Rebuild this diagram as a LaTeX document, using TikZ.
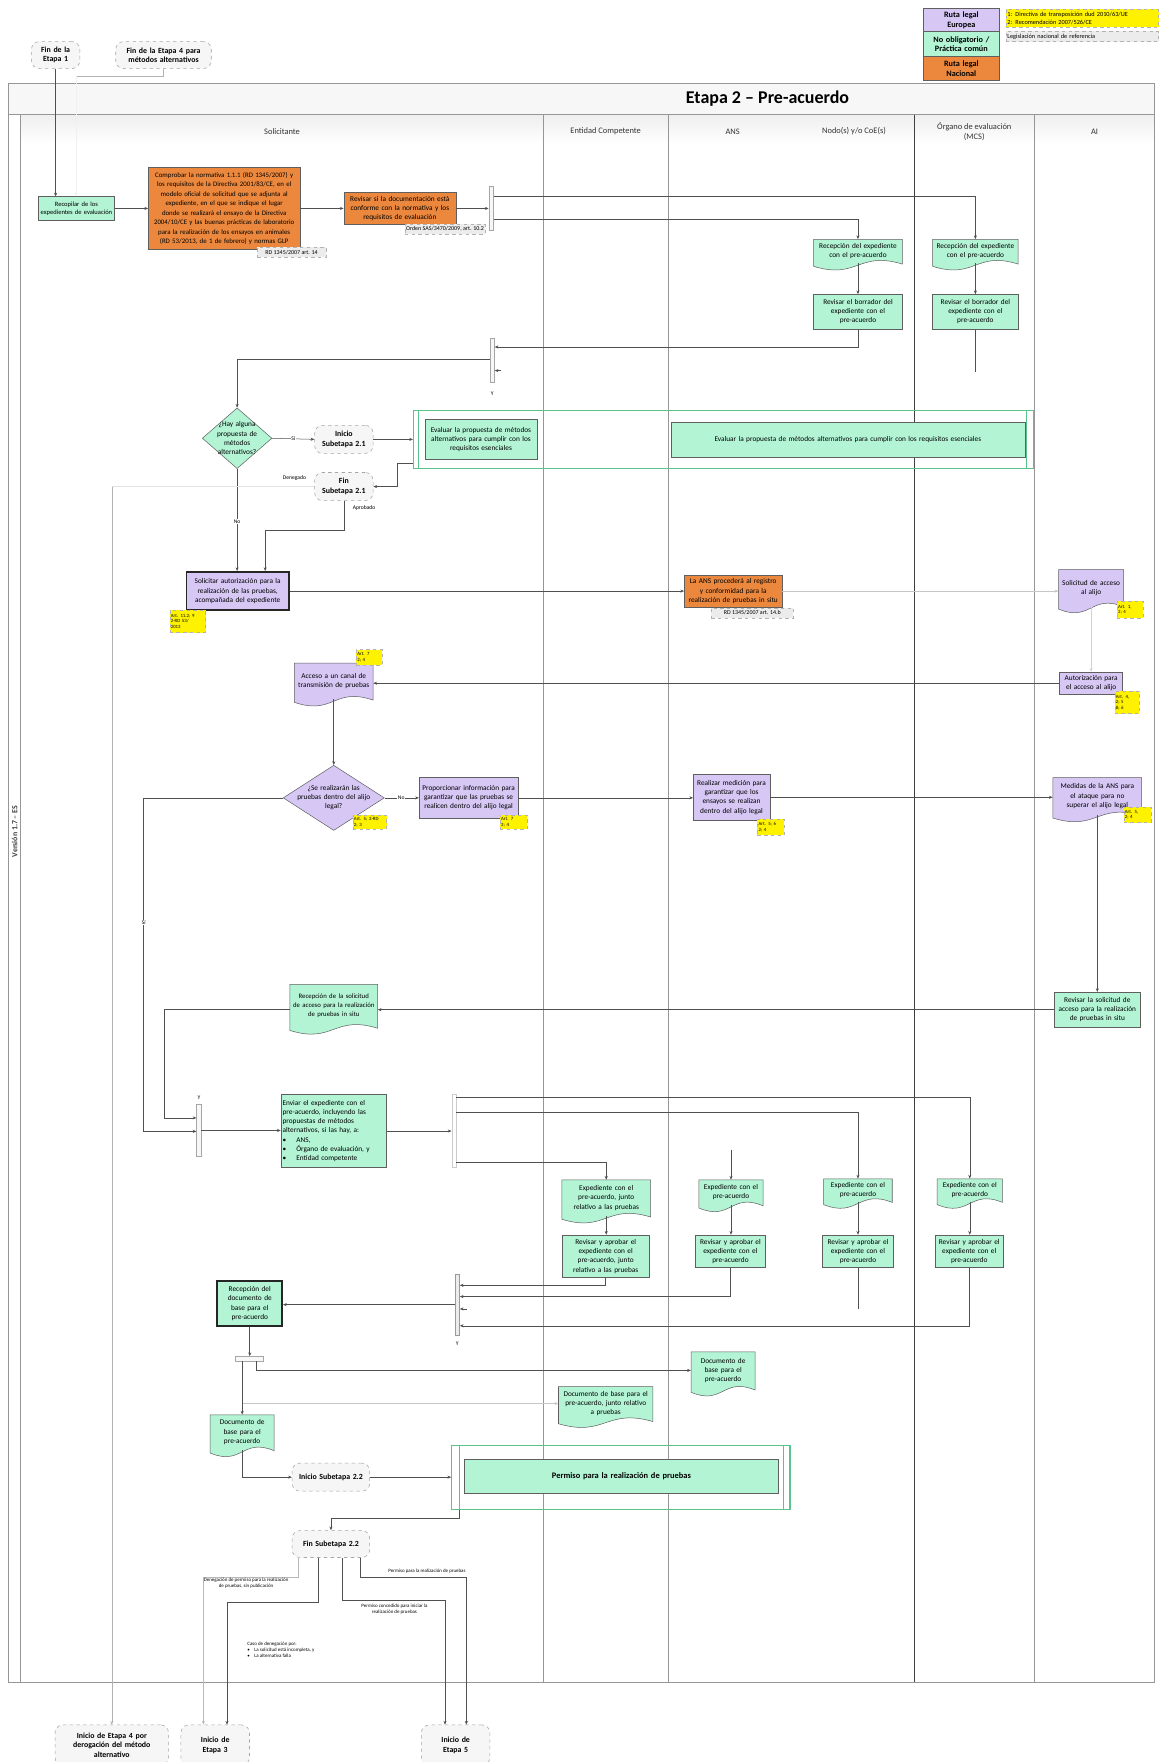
\documentclass[tikz,border=0pt]{standalone}
\usepackage{fontspec}
\setmainfont{Carlito}
\usetikzlibrary{arrows.meta,calc,shapes.geometric}
\definecolor{mint}{RGB}{178,244,212}
\definecolor{lav}{RGB}{214,199,245}
\definecolor{org}{RGB}{236,136,62}
\definecolor{boxline}{RGB}{95,95,95}
\definecolor{linec}{RGB}{80,80,80}
\definecolor{lanec}{RGB}{150,150,150}
\definecolor{spgreen}{RGB}{90,195,140}
\pgfdeclarelayer{bg}
\pgfsetlayers{bg,main}
\tikzset{
 txt/.style={font=\fontsize{6.5}{8.2}\selectfont, align=center, inner sep=1pt},
 box/.style={txt, draw=boxline, line width=0.45pt, rectangle},
 gbox/.style={box, fill=mint},
 pbox/.style={box, fill=lav},
 obox/.style={box, fill=org},
 heavy/.style={line width=1.7pt, draw=black!85},
 docsh/.style={draw=boxline, line width=0.45pt},
 term/.style={txt, font=\fontsize{7}{8.4}\selectfont\bfseries, draw=gray!70, dashed, fill=gray!7, rounded corners=7pt, line width=0.5pt},
 ylab/.style={font=\fontsize{4.3}{4.9}\selectfont, fill=yellow, draw=gray!60, dashed, line width=0.3pt, align=left, inner sep=0.8pt},
 glab/.style={font=\fontsize{5.3}{6}\selectfont, fill=gray!15, draw=gray!60, dashed, line width=0.4pt, inner sep=1pt},
 fork/.style={draw=gray!70, fill=gray!6, line width=0.4pt, inner sep=0pt},
 ar/.style={draw=linec, line width=0.45pt, -{Stealth[length=3.3pt,width=2.7pt]}},
 ln/.style={draw=linec, line width=0.45pt},
 fa/.style={draw=gray!40, line width=0.4pt},
 lbl/.style={font=\fontsize{5}{5.8}\selectfont, inner sep=0.6pt, align=center},
 hd/.style={font=\fontsize{7.5}{8.5}\selectfont, text=black!80, align=center},
 dia/.style={diamond, draw=boxline, line width=0.45pt, inner sep=0pt},
}
\newcommand\bx[7][]{%
 \pgfmathsetmacro\bxw{#5-#3}\pgfmathsetmacro\bxh{#6-#4}%
 \pgfmathsetmacro\bxcx{(#3+#5)/2}\pgfmathsetmacro\bxcy{(#4+#6)/2}%
 \pgfmathsetmacro\bxt{#5-#3-3}%
 \node[box,#1,minimum width=\bxw pt,minimum height=\bxh pt,text width=\bxt pt] (#2) at (\bxcx,\bxcy) {#7};}
\newcommand\dc[7][]{%
 \pgfmathsetmacro\bxw{#5-#3}\pgfmathsetmacro\bxh{#6-4-#4}%
 \pgfmathsetmacro\bxcx{(#3+#5)/2}\pgfmathsetmacro\bxcy{(#4+#6-4)/2}%
 \pgfmathsetmacro\bxt{#5-#3-3}%
 \pgfmathsetmacro\bya{#6-3}\pgfmathsetmacro\byb{#6-15}\pgfmathsetmacro\byc{#6+11}\pgfmathsetmacro\byd{#6-1}%
 \path[docsh,#1] (#3,#4) -- (#5,#4) -- (#5,\bya) .. controls (\bxcx,\byb) and (\bxcx,\byc) .. (#3,\byd) -- cycle;
 \node[txt,minimum width=\bxw pt,minimum height=\bxh pt,text width=\bxt pt] (#2) at (\bxcx,\bxcy) {#7};}
\newcommand\tm[6]{\pgfmathsetmacro\bxt{#4-6}%
 \node[term,minimum width=#4pt,minimum height=#5pt,text width=\bxt pt] (#1) at (#2,#3) {#6};}
\begin{document}
\begin{tikzpicture}[x=1pt,y=-1pt]
\useasboundingbox (0,0) rectangle (1031,1568);

% ---------- frame and lanes
\begin{pgfonlayer}{bg}
\fill[white] (0,0) rectangle (1031,1568);
\fill[gray!6] (7.6,74) rectangle (1027,102);
\shade[top color=gray!13,bottom color=white] (18,102) rectangle (1027,128);
\draw[lanec,line width=0.7pt] (7.6,74) rectangle (1027,1497);
\draw[lanec,line width=0.6pt] (7.6,102) -- (1027,102);
\draw[lanec] (18,102) -- (18,1497);
\draw[lanec] (483,102) -- (483,1497);
\draw[lanec] (595,102) -- (595,1497);
\draw[black!75,line width=0.6pt] (814,102) -- (814,1497);
\draw[lanec] (920,102) -- (920,1497);
\end{pgfonlayer}
\node[font=\fontsize{16}{18}\selectfont\bfseries] (title) at (683,88) {Etapa 2 – Pre-acuerdo};
\node[rotate=90,font=\fontsize{7}{8}\selectfont\bfseries,text=black!75] (ver) at (13,740) {Versión 1.7 – ES};
\node[hd] (hS) at (251,117) {Solicitante};
\node[hd] (hE) at (539,117) {Entidad Competente};
\node[hd] (hA) at (652,117) {ANS};
\node[hd] (hN) at (760,117) {Nodo(s) y/o CoE(s)};
\node[hd] (hO) at (867,117) {Órgano de evaluación\\(MCS)};
\node[hd] (hI) at (974,117) {AI};

% ---------- legend
\bx[pbox,font=\fontsize{7.3}{8.8}\selectfont\bfseries]{lg1}{822}{7.4}{889}{28.2}{Ruta legal\\Europea}
\bx[gbox,font=\fontsize{7.3}{8.8}\selectfont\bfseries]{lg2}{822}{28.2}{889}{50.4}{No obligatorio /\\Práctica común}
\bx[obox,font=\fontsize{7.3}{8.8}\selectfont\bfseries]{lg3}{822}{50.4}{889}{71.2}{Ruta legal\\Nacional}
\node[ylab,font=\fontsize{5.6}{7}\selectfont,minimum width=136pt,minimum height=16pt,text width=133pt] (lgy) at (963,16.3) {1: Directiva de transposición dud 2010/63/UE\\2: Recomendación 2007/526/CE};
\node[glab,font=\fontsize{5.6}{6.5}\selectfont,minimum width=136pt,minimum height=9pt,text width=133pt,align=left] (lgg) at (963,32.5) {Legislación nacional de referencia};

% ---------- top terminators
\tm{fe1}{49.5}{49}{43}{24}{Fin de la\\Etapa 1}
\tm{fe4}{145.5}{49}{85}{24}{Fin de la Etapa 4 para\\métodos alternativos}

% ---------- row 1
\bx[gbox,font=\fontsize{5.8}{7.2}\selectfont]{rec}{34}{175}{102}{196}{Recopilar de los\\expedientes de evaluación}
\bx[obox,font=\fontsize{6.1}{8.4}\selectfont]{o1}{132}{149}{267}{222}{Comprobar la normativa 1.1.1 (RD 1345/2007) y\\los requisitos de la Directiva 2001/83/CE, en el\\modelo oficial de solicitud que se adjunta al\\expediente, en el que se indique el lugar\\donde se realizará el ensayo de la Directiva\\2004/10/CE y las buenas prácticas de laboratorio\\para la realización de los ensayos en animales\\(RD 53/2013, de 1 de febrero) y normas GLP}
\node[glab,minimum width=61pt,minimum height=9pt] (o1l) at (259.5,224.5) {RD 1345/2007 art. 14};
\bx[obox]{o2}{306}{171}{405.6}{200}{Revisar si la documentación está\\conforme con la normativa y los\\requisitos de evaluación}
\node[glab,minimum width=66pt,minimum height=9pt] (o2l) at (396,204) {Orden SAS/3470/2009, art. 10.2};
\node[fork,minimum width=4pt,minimum height=39pt] (f1) at (437,185.5) {};

\draw[ar] (fe1.south) -- (fe1.south |- rec.north);
\coordinate (c4) at (67.5,68);
\draw[ln,draw=gray!60] (fe4.south) |- (c4);
\draw[ar,draw=gray!12] (c4) -- (c4 |- rec.north);
\draw[ar] (rec.east) -- (rec.east -| o1.west);
\draw[ar] (o1.east |- o2.west) -- (o2.west);
\draw[ar] (o2.east) -- (o2.east -| f1.west);

\dc[fill=mint]{nodD1}{724}{213}{803}{238}{Recepción del expediente\\con el pre-acuerdo}
\bx[gbox]{nodB1}{724}{262}{803}{293}{Revisar el borrador del\\expediente con el\\pre-acuerdo}
\dc[fill=mint]{orgD1}{830}{213}{906}{238}{Recepción del expediente\\con el pre-acuerdo}
\bx[gbox]{orgB1}{830}{262}{906}{293}{Revisar el borrador del\\expediente con el\\pre-acuerdo}
\draw[ln] ($(f1.north east)+(0,9)$) -| ($(orgD1.north)+(0,-3)$);
\draw[ar] ($(orgD1.north)+(0,-4)$) -- (orgD1.north);
\draw[ln] ($(f1.north east)+(0,29)$) -| ($(nodD1.north)+(0,-3)$);
\draw[ar] ($(nodD1.north)+(0,-4)$) -- (nodD1.north);
\draw[ar] (nodD1.south) -- (nodB1.north);
\draw[ar] (orgD1.south) -- (orgB1.north);

\node[fork,minimum width=4pt,minimum height=39pt] (f2) at (438,320.5) {};
\node[lbl] (y2) at (438,350) {Y};
\draw[ar] (nodB1.south) |- ($(f2.north east)+(0,8)$);
\coordinate (og) at (868,331);
\draw[ln] (orgB1.south) -- (og);
\draw[ar] ($(f2.north east)+(6,29)$) -- ($(f2.north east)+(0,29)$);

% ---------- diamond 1 and subetapa 2.1
\node[dia,fill=mint,minimum width=62pt,minimum height=54pt] (d1) at (211,390) {};
\node[txt,text width=48pt] (d1t) at (d1.center) {¿Hay alguna\\propuesta de\\métodos\\alternativos?};
\draw[ar] ($(f2.north west)+(0,19)$) -| (d1.north);
\tm{i21}{306}{391}{52}{25}{Inicio\\Subetapa 2.1}
\draw[ar] (d1.east) -- (i21.west);
\node[lbl,fill=white] (si1) at (261,390.5) {Sí};
\node[draw=spgreen,line width=1pt,minimum width=552pt,minimum height=52pt,inner sep=0pt] (sp1) at (644,391) {};
\draw[spgreen,line width=0.8pt] ($(sp1.north west)+(5,0)$) -- ($(sp1.south west)+(5,0)$);
\draw[spgreen,line width=0.8pt] ($(sp1.north east)+(-7,0)$) -- ($(sp1.south east)+(-7,0)$);
\bx[gbox]{sp1a}{378}{373}{478}{409}{Evaluar la propuesta de métodos\\alternativos para cumplir con los\\requisitos esenciales}
\bx[gbox]{sp1b}{597}{376}{912}{407}{Evaluar la propuesta de métodos alternativos para cumplir con los requisitos esenciales}
\draw[ar] (i21.east) -- (i21.east -| sp1.west);
\tm{fin21}{306}{433}{52}{25}{Fin\\Subetapa 2.1}
\draw[ar] ($(sp1.south west)+(0,-5)$) -| ($(fin21.east)+(21,0)$) -- (fin21.east);
\node[lbl] (den1) at (262,425) {Denegado};
\node[lbl] (apr1) at (324,452) {Aprobado};

% ---------- solicitud de autorización
\bx[pbox,heavy]{pb1}{166}{509}{257}{543}{Solicitar autorización para la\\realización de las pruebas,\\acompañada del expediente}
\node[ylab,minimum width=32pt,minimum height=20pt,text width=30pt] (pb1l) at (167,553) {Art. 11.2; 9\\2-RD 53/\\2013};
\draw[ar] (d1.south) -- (d1.south |- pb1.north);
\node[lbl,fill=white] (no1) at (211,464) {No};
\draw[ar] (fin21.south) |- ($(pb1.north)+(24.5,-36)$) -- ($(pb1.north)+(24.5,0)$);

% ---------- inicio etapa 4 path
\tm{ie4}{99.5}{1553}{101}{36}{Inicio de Etapa 4 por\\derogación del método\\alternativo}
\coordinate (dn) at (99.5,433);
\draw[fa,draw=gray!22] (fin21.west) -- (dn);
\draw[ar,draw=gray!60] (dn) -- (dn |- ie4.north);

% ---------- ANS / AI first exchange
\bx[obox]{ans1}{609}{512}{696}{540}{La ANS procederá al registro\\y conformidad para la\\realización de pruebas in situ}
\node[glab,minimum width=73pt,minimum height=9pt] (ans1l) at (669.5,545.5) {RD 1345/2007 art. 14.b};
\draw[ar] (pb1.east) -- (pb1.east -| ans1.west);
\dc[fill=lav]{aiD1}{942}{507}{1000}{543}{Solicitud de acceso\\al alijo}
\node[ylab,minimum width=23pt,minimum height=15pt,text width=21pt] (aiD1l) at (1005.5,542.5) {Art. 1,\\2; 4};
\draw[ar,draw=gray!45] (ans1.east) -- (ans1.east -| aiD1.west);
\bx[pbox]{aiB1}{943}{598}{999}{618}{Autorización para\\el acceso al alijo}
\node[ylab,minimum width=22pt,minimum height=20pt,text width=20pt] (aiB1l) at (1003,625) {Art. 4,\\2; 5\\8; 6};
\draw[ar,draw=gray!35] (aiD1.south) -- (aiD1.south |- aiB1.north);
\dc[fill=lav]{sD1}{262}{590}{332}{626}{Acceso a un canal de\\transmisión de pruebas}
\node[ylab,minimum width=23pt,minimum height=14pt,text width=21pt] (sD1l) at (328.5,585) {Art. 7\\2; 4};
\draw[ar] (aiB1.west) -- (aiB1.west -| sD1.east);

% ---------- diamond 2 row
\node[dia,fill=lav,minimum width=90pt,minimum height=58pt] (d2) at (297,710) {};
\node[txt,text width=80pt] (d2t) at (d2.center) {¿Se realizarán las\\pruebas dentro del alijo\\legal?};
\node[ylab,minimum width=30pt,minimum height=13pt,text width=28pt] (d2l) at (329,731.5) {Art. 5; 2-RD\\2; 3};
\draw[ar] (sD1.south) -- (d2.north);
\bx[pbox]{pB2}{373}{692}{461}{728}{Proporcionar información para\\garantizar que las pruebas se\\realicen dentro del alijo legal}
\node[ylab,minimum width=24pt,minimum height=13pt,text width=22pt] (pB2l) at (457,731.5) {Art. 7\\2; 4};
\draw[ar] (d2.east) -- (pB2.west);
\node[lbl,fill=white] (no2) at (357,710) {No};
\bx[pbox]{ansB2}{617}{689}{685}{730}{Realizar medición para\\garantizar que los\\ensayos se realizan\\dentro del alijo legal}
\node[ylab,minimum width=24pt,minimum height=14pt,text width=22pt] (ansB2l) at (686,736) {Art. 5; 6\\2; 4};
\draw[ar] (pB2.east) -- (pB2.east -| ansB2.west);
\dc[fill=lav]{aiD2}{937}{692}{1016}{729}{Medidas de la ANS para\\el ataque para no\\superar el alijo legal}
\node[ylab,minimum width=24pt,minimum height=14pt,text width=22pt] (aiD2l) at (1012,725) {Art. 5,\\2; 4};
\draw[ar] (ansB2.east) -- (ansB2.east -| aiD2.west);

% ---------- fork 3
\node[fork,minimum width=4pt,minimum height=46pt] (f3) at (177,1006) {};
\node[lbl] (y3) at (177,977) {Y};
\draw[ar] (d2.west) -| ($(f3.north west)+(-47,24)$) -- ($(f3.north west)+(0,24)$);
\node[lbl,fill=white] (si2) at (128,821) {Sí};
\bx[gbox]{aiB2}{938}{883}{1015}{914}{Revisar la solicitud de\\acceso para la realización\\de pruebas in situ}
\draw[ar] (aiD2.south) -- (aiD2.south |- aiB2.north);
\dc[fill=mint]{sD2}{258}{876}{336}{918}{\fontsize{6}{7.8}\selectfont Recepción de la solicitud\\de acceso para la realización\\de pruebas in situ}
\draw[ar] (aiB2.west) -- (aiB2.west -| sD2.east);
\draw[ar] (sD2.west |- aiB2.west) -| ($(f3.north west)+(-29,12)$) -- ($(f3.north west)+(0,12)$);
\bx[gbox,align=left]{env}{250}{974}{344}{1039}{Enviar el expediente con el\\pre-acuerdo, incluyendo las\\propuestas de métodos\\alternativos, si las hay, a:\\\textbullet\hspace{9pt}ANS,\\\textbullet\hspace{9pt}Órgano de evaluación, y\\\textbullet\hspace{9pt}Entidad competente}
\draw[ar] (f3.east) -- (f3.east -| env.west);
\node[fork,draw=gray!40,fill=white,minimum width=4pt,minimum height=65pt] (f4) at (404,1006.5) {};
\draw[ar] (env.east) -- (env.east -| f4.west);

% ---------- review row
\dc[fill=mint]{entD2}{500}{1050}{579}{1086}{Expediente con el\\pre-acuerdo, junto\\relativo a las pruebas}
\bx[gbox]{entB2}{500}{1099}{578}{1137}{Revisar y aprobar el\\expediente con el\\pre-acuerdo, junto\\relativo a las pruebas}
\dc[fill=mint]{ansD2}{622}{1050}{679}{1076}{Expediente con el\\pre-acuerdo}
\bx[gbox]{ansB3}{619}{1099}{681}{1128}{Revisar y aprobar el\\expediente con el\\pre-acuerdo}
\dc[fill=mint]{nodD2}{733}{1049}{794}{1073}{Expediente con el\\pre-acuerdo}
\bx[gbox]{nodB2}{732}{1099}{795}{1128}{Revisar y aprobar el\\expediente con el\\pre-acuerdo}
\dc[fill=mint]{orgD2}{834}{1049}{892}{1073}{Expediente con el\\pre-acuerdo}
\bx[gbox]{orgB2}{832}{1099}{893}{1128}{Revisar y aprobar el\\expediente con el\\pre-acuerdo}
\draw[ar] ($(f4.north east)+(0,3)$) -| (orgD2.north);
\draw[ar] ($(f4.north east)+(0,16)$) -| (nodD2.north);
\draw[ar] ($(f4.south east)+(0,-5)$) -| (entD2.north);
\coordinate (ansin) at (650.5,1023);
\draw[ar] (ansin) -- (ansD2.north);
\draw[ar] (entD2.south) -- (entD2.south |- entB2.north);
\draw[ar] (ansD2.south) -- (ansD2.south |- ansB3.north);
\draw[ar] (nodD2.south) -- (nodD2.south |- nodB2.north);
\draw[ar] (orgD2.south) -- (orgD2.south |- orgB2.north);

% ---------- fork 5
\node[fork,draw=gray!80,fill=gray!15,minimum width=4pt,minimum height=54pt] (f5) at (407,1161) {};
\node[lbl] (y5) at (407,1196) {Y};
\draw[ar] (entB2.south) |- ($(f5.north east)+(0,10)$);
\draw[ar] (ansB3.south) |- ($(f5.north east)+(0,20)$);
\coordinate (nodout) at (763.5,1165);
\draw[ln] (nodB2.south) -- (nodout);
\draw[ar] ($(f5.north east)+(6,31)$) -- ($(f5.north east)+(0,31)$);
\draw[ar] (orgB2.south) |- ($(f5.north east)+(0,46)$);
\bx[gbox,heavy]{recB}{193.5}{1140}{251}{1180}{Recepción del\\documento de\\base para el\\pre-acuerdo}
\draw[ar] (f5.west) -- (f5.west -| recB.east);

% ---------- fork 6 and base documents
\node[fork,minimum width=25pt,minimum height=4pt] (f6) at (221.5,1209) {};
\draw[ar] (recB.south) -- (recB.south |- f6.north);
\dc[fill=mint]{ansD3}{615}{1203}{672}{1240}{Documento de\\base para el\\pre-acuerdo}
\dc[fill=mint]{entD3}{497}{1234}{581}{1268}{Documento de base para el\\pre-acuerdo, junto relativo\\a pruebas}
\dc[fill=mint]{sD3}{187}{1259}{244}{1294}{Documento de\\base para el\\pre-acuerdo}
\draw[ar] ($(f6.south east)+(-6,0)$) |- (ansD3.west);
\draw[ar,draw=gray!45] ($(f6.south west)+(6.5,0)$) |- (entD3.west);
\draw[ar] (sD3.north |- f6.south) -- (sD3.north);

% ---------- subetapa 2.2
\tm{i22}{294.5}{1314.5}{69}{25}{Inicio Subetapa 2.2}
\draw[ar] (sD3.south) |- (i22.west);
\node[draw=spgreen,line width=1pt,minimum width=301pt,minimum height=57pt,inner sep=0pt] (sp2) at (552.5,1314.5) {};
\draw[spgreen,line width=0.8pt] ($(sp2.north west)+(7,0)$) -- ($(sp2.south west)+(7,0)$);
\draw[spgreen,line width=0.8pt] ($(sp2.north east)+(-6,0)$) -- ($(sp2.south east)+(-6,0)$);
\bx[gbox,font=\fontsize{7.5}{9}\selectfont\bfseries]{sp2a}{413}{1299}{693}{1329}{Permiso para la realización de pruebas}
\draw[ar] (i22.east) -- (i22.east -| sp2.west);
\tm{fin22}{294.5}{1374}{69}{24}{Fin Subetapa 2.2}
\draw[ar] ($(sp2.south west)+(7,0)$) |- ($(fin22.north)+(0,-11)$) -- (fin22.north);

% ---------- exits
\tm{ie3}{191.5}{1553}{61}{36}{Inicio de\\Etapa 3}
\tm{ie5}{405.5}{1553}{61}{36}{Inicio de\\Etapa 5}
\draw[ar,draw=gray!55] ($(fin22.south)+(-29.5,0)$) |- ($(ie3.north)+(-10.5,-131)$) -- ($(ie3.north)+(-10.5,0)$);
\draw[ar] ($(fin22.south)+(-11.5,0)$) |- ($(ie3.north)+(10.5,-109)$) -- ($(ie3.north)+(10.5,0)$);
\draw[ar] ($(fin22.south)+(10.5,0)$) |- ($(ie5.north)+(-9.5,-111)$) -- ($(ie5.north)+(-9.5,0)$);
\draw[ar] ($(fin22.south)+(26.5,0)$) |- ($(ie5.north)+(9.5,-131)$) -- ($(ie5.north)+(9.5,0)$);
\node[lbl,font=\fontsize{4.4}{5.2}\selectfont] (la) at (219,1409) {Denegación de permiso para la realización\\de pruebas, sin publicación};
\node[lbl,font=\fontsize{4.4}{5.2}\selectfont,align=left] (lb) at (250,1468) {Caso de denegación por:\\\textbullet\hspace{4pt}La solicitud está incompleta, y\\\textbullet\hspace{4pt}La alternativa falla};
\node[lbl,font=\fontsize{4.4}{5.2}\selectfont] (lc) at (351,1432) {Permiso concedido para iniciar la\\realización de pruebas};
\node[lbl,font=\fontsize{4.4}{5.2}\selectfont] (ld) at (380,1398) {Permiso para la realización de pruebas};
\end{tikzpicture}
\end{document}
